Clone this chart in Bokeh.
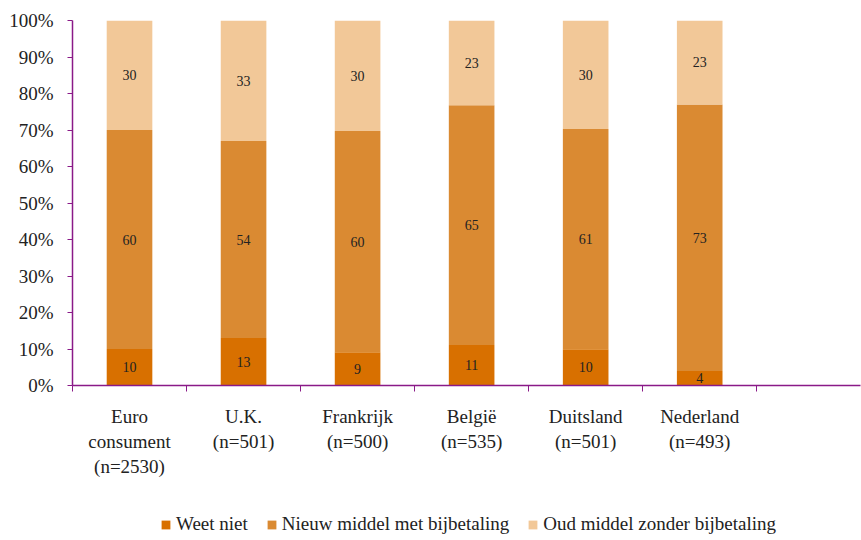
from bokeh.plotting import figure
from bokeh.layouts import column
from bokeh.models import ColumnDataSource, FixedTicker, Legend, LegendItem, Range1d
from bokeh.core.properties import value
from bokeh.embed import file_html
from bokeh.resources import INLINE

categories = ["Euro\nconsument\n(n=2530)", "U.K.\n(n=501)", "Frankrijk\n(n=500)",
              "België\n(n=535)", "Duitsland\n(n=501)", "Nederland\n(n=493)"]
series_names = ["Weet niet", "Nieuw middel met bijbetaling", "Oud middel zonder bijbetaling"]
weet_niet = [10, 13, 9, 11, 10, 4]
nieuw = [60, 54, 60, 65, 61, 73]
oud = [30, 33, 30, 23, 30, 23]
y_ticks = [0, 10, 20, 30, 40, 50, 60, 70, 80, 90, 100]

colors = ["#D87000", "#DA8A32", "#F2C898"]
FONT = "Liberation Serif"
AXIS_COLOR = "#8A1A88"

xs = list(range(len(categories)))
series = [weet_niet, nieuw, oud]
totals = [sum(v) for v in zip(*series)]

p = figure(width=861, height=500, output_backend="svg", toolbar_location=None,
           x_range=Range1d(-0.5, 6.41), y_range=Range1d(0, 100),
           min_border_left=72, min_border_right=1, min_border_top=20, min_border_bottom=115)
p.outline_line_color = None
p.grid.visible = False

bottoms = [0.0] * len(xs)
for name, vals, col in zip(series_names, series, colors):
    norm = [v / t * 100 for v, t in zip(vals, totals)]
    tops = [b + n for b, n in zip(bottoms, norm)]
    src = ColumnDataSource(dict(x=xs, bottom=bottoms, top=tops,
                                mid=[(b + t) / 2 for b, t in zip(bottoms, tops)],
                                lab=[str(v) for v in vals]))
    p.vbar(x="x", bottom="bottom", top="top", width=0.4, source=src,
           fill_color=col, line_color=None)
    p.text(x="x", y="mid", text="lab", source=src, text_align="center",
           text_baseline="middle", text_font=value(FONT), text_font_size="14px",
           text_color="#222222")
    bottoms = tops

# x axis
xa = p.xaxis[0]
xa.ticker = FixedTicker(ticks=xs, minor_ticks=[i - 0.5 for i in range(8)])
xa.major_label_overrides = {i: c for i, c in enumerate(categories)}
xa.major_tick_line_color = None
xa.minor_tick_in = 0
xa.minor_tick_out = 6
xa.minor_tick_line_color = AXIS_COLOR
xa.axis_line_color = AXIS_COLOR
xa.axis_line_width = 1.5
xa.major_label_standoff = 14
xa.major_label_text_font = FONT
xa.major_label_text_font_size = "19px"
xa.major_label_text_color = "#222222"

ya = p.yaxis[0]
ya.ticker = FixedTicker(ticks=y_ticks, minor_ticks=[])
ya.major_label_overrides = {v: f"{v}%" for v in y_ticks}
ya.major_tick_in = 0
ya.major_tick_out = 5
ya.major_tick_line_color = AXIS_COLOR
ya.minor_tick_line_color = None
ya.axis_line_color = AXIS_COLOR
ya.axis_line_width = 1.5
ya.major_label_standoff = 14
ya.major_label_text_font = FONT
ya.major_label_text_font_size = "19px"
ya.major_label_text_color = "#222222"

# legend strip
lg = figure(width=861, height=40, output_backend="svg", toolbar_location=None,
            x_range=Range1d(0, 1), y_range=Range1d(0, 1),
            min_border_left=0, min_border_right=0, min_border_top=0, min_border_bottom=0,
            x_axis_type=None, y_axis_type=None)
lg.outline_line_color = None
lg.grid.visible = False
items = []
for name, col in zip(series_names, colors):
    r = lg.rect(x=[-5], y=[-5], width=1, height=1, fill_color=col, line_color=None)
    items.append(LegendItem(label=name, renderers=[r]))

legend = Legend(items=items, orientation="horizontal", location=(88, 5),
                label_text_font=FONT, label_text_font_size="19px",
                label_text_color="#222222", glyph_width=11, glyph_height=11,
                label_standoff=5, spacing=18, border_line_color=None,
                background_fill_alpha=0, padding=0, margin=0)
lg.add_layout(legend, "center")

layout = column(p, lg, spacing=0)
open("out.html", "w").write(file_html(layout, INLINE))
